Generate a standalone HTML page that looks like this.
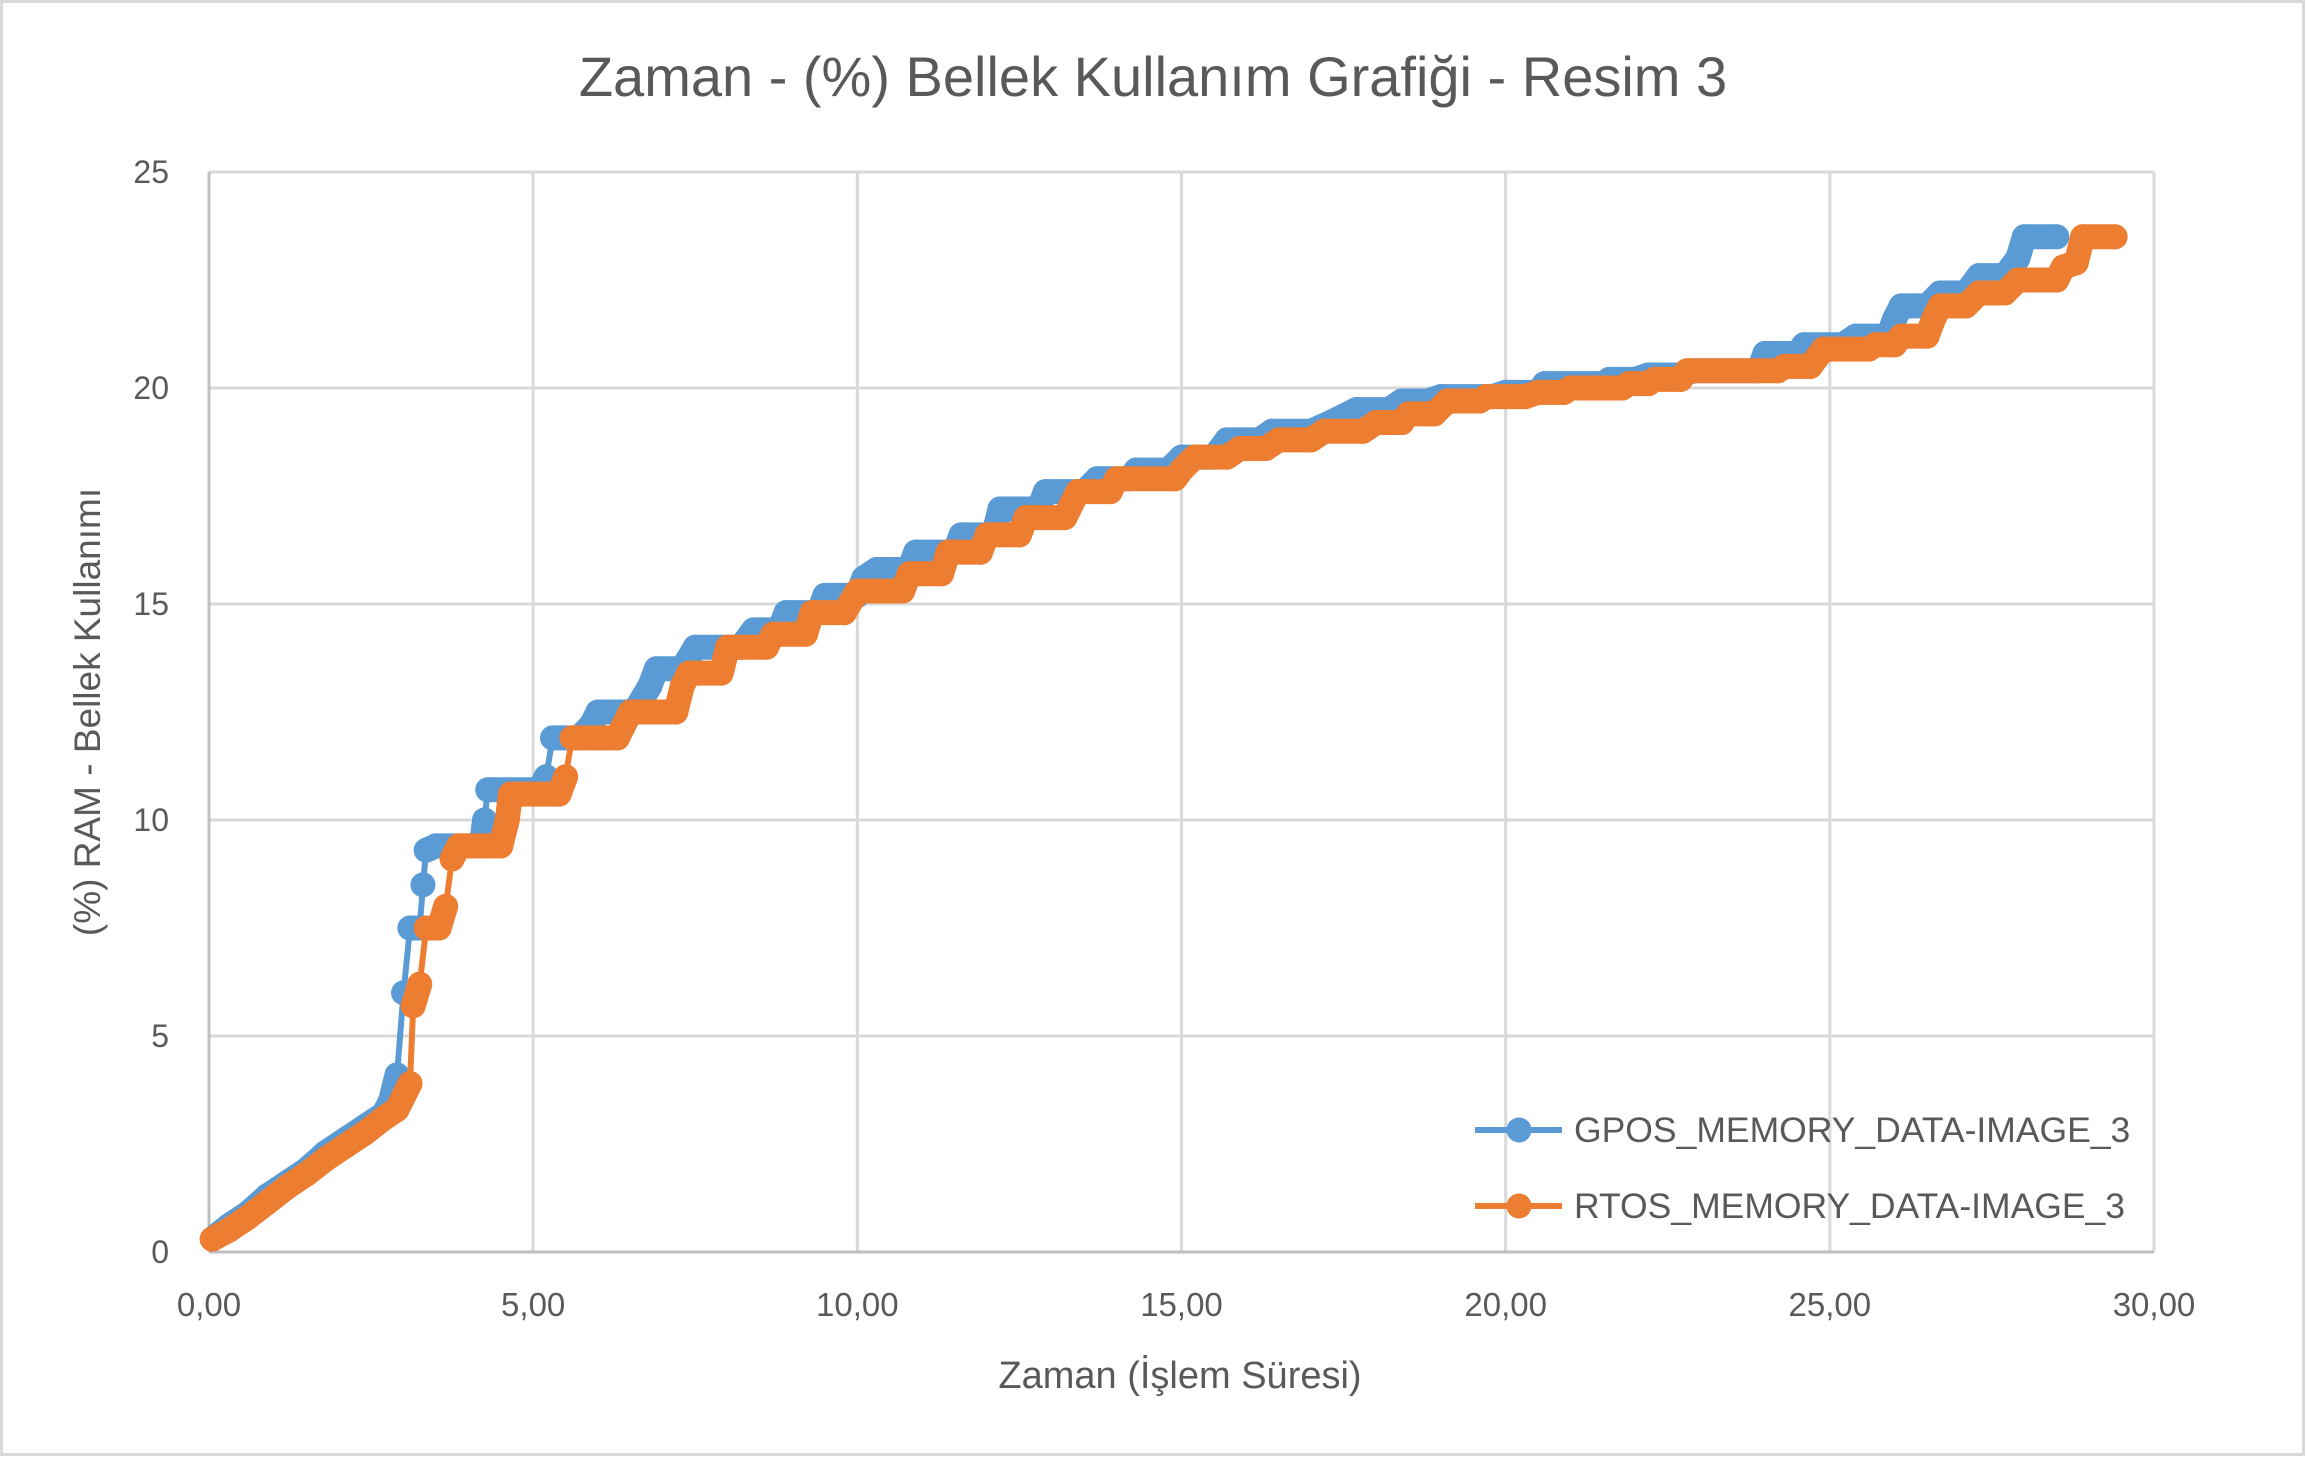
<!DOCTYPE html>
<html><head><meta charset="utf-8"><style>
html,body{margin:0;padding:0;background:#fff;}
svg{display:block;font-family:"Liberation Sans",sans-serif;}
</style></head><body>
<svg id="chart" width="2307" height="1458" viewBox="0 0 2307 1458" xmlns="http://www.w3.org/2000/svg">
<rect x="1.5" y="1.5" width="2302" height="1453" fill="#fff" stroke="#d9d9d9" stroke-width="3"/>
<text x="1153" y="96" text-anchor="middle" font-size="56" fill="#595959">Zaman - (%) Bellek Kullanım Grafiği - Resim 3</text>
<g id="grid"></g>
<g id="axes"></g>
<g id="series"></g>
<text x="1180" y="1388" text-anchor="middle" font-size="38" fill="#595959">Zaman  (İşlem Süresi)</text>
<text transform="translate(100,712) rotate(-90)" text-anchor="middle" font-size="37" fill="#595959">(%) RAM - Bellek Kullanımı</text>
<g id="legend"></g>
</svg>
<script>
const xTicks=[0,5,10,15,20,25,30];
const xTickLabels=["0,00","5,00","10,00","15,00","20,00","25,00","30,00"];
const yTicks=[0,5,10,15,20,25];
const yTickLabels=["0","5","10","15","20","25"];
const seriesNames=["GPOS_MEMORY_DATA-IMAGE_3","RTOS_MEMORY_DATA-IMAGE_3"];
const gposX=[0.05,0.3,0.6,0.9,1.2,1.5,1.8,2.1,2.4,2.7,2.8,2.9,3.0,3.1,3.25,3.3,3.35,3.5,4.2,4.25,4.3,5.1,5.2,5.3,5.7,5.9,6.0,6.5,6.6,6.8,6.9,7.3,7.5,8.2,8.4,8.8,8.9,9.4,9.5,10.0,10.1,10.3,10.8,10.9,11.5,11.6,12.1,12.2,12.8,12.9,13.5,13.7,14.2,14.3,14.8,15.0,15.5,15.7,16.2,16.4,17.0,17.3,17.7,18.2,18.4,18.8,19.0,19.8,20.0,20.5,20.6,21.5,21.6,22.0,22.2,22.7,22.9,23.9,24.0,24.5,24.6,25.2,25.4,25.9,26.0,26.1,26.5,26.7,27.1,27.3,27.7,27.8,27.9,28.0,28.5];
const gposY=[0.3,0.6,0.9,1.3,1.6,1.9,2.3,2.6,2.9,3.2,3.5,4.1,6.0,7.5,7.5,8.5,9.3,9.4,9.4,10.0,10.7,10.7,11.0,11.9,11.9,12.2,12.5,12.5,12.6,13.1,13.5,13.5,14.0,14.0,14.4,14.4,14.8,14.8,15.2,15.2,15.6,15.8,15.8,16.2,16.2,16.6,16.6,17.2,17.2,17.6,17.6,17.9,17.9,18.1,18.1,18.4,18.4,18.8,18.8,19.0,19.0,19.2,19.5,19.5,19.7,19.7,19.8,19.8,19.9,19.9,20.1,20.1,20.2,20.2,20.3,20.3,20.4,20.4,20.8,20.8,21.0,21.0,21.2,21.2,21.6,21.9,21.9,22.2,22.2,22.6,22.6,22.8,23.0,23.5,23.5];
const rtosX=[0.05,0.3,0.6,0.9,1.2,1.5,1.8,2.1,2.4,2.7,2.9,3.0,3.1,3.15,3.25,3.35,3.55,3.65,3.75,3.85,4.5,4.6,4.65,5.4,5.5,5.6,6.3,6.4,6.5,7.2,7.3,7.4,7.9,8.0,8.6,8.7,9.2,9.3,9.8,10.0,10.7,10.8,11.3,11.4,11.9,12.0,12.5,12.6,13.2,13.3,13.4,13.9,14.0,14.9,15.0,15.2,15.7,15.9,16.3,16.5,17.0,17.2,17.8,18.0,18.4,18.5,18.9,19.1,19.6,19.7,20.3,20.5,20.9,21.0,21.8,21.9,22.2,22.3,22.7,22.8,24.2,24.3,24.7,24.9,25.6,25.7,26.0,26.1,26.5,26.6,26.7,27.1,27.3,27.7,27.9,28.5,28.6,28.8,28.9,29.4];
const rtosY=[0.3,0.5,0.8,1.15,1.5,1.8,2.15,2.45,2.75,3.1,3.3,3.6,3.9,5.7,6.2,7.5,7.5,8.0,9.1,9.4,9.4,10.0,10.6,10.6,11.0,11.9,11.9,12.2,12.5,12.5,13.1,13.4,13.4,14.0,14.0,14.3,14.3,14.8,14.8,15.3,15.3,15.7,15.7,16.2,16.2,16.6,16.6,17.0,17.0,17.3,17.6,17.6,17.9,17.9,18.1,18.4,18.4,18.6,18.6,18.8,18.8,19.0,19.0,19.2,19.2,19.4,19.4,19.7,19.7,19.8,19.8,19.9,19.9,20.0,20.0,20.1,20.1,20.2,20.2,20.4,20.4,20.5,20.5,20.9,20.9,21.0,21.0,21.2,21.2,21.6,21.9,21.9,22.2,22.2,22.5,22.5,22.8,22.9,23.5,23.5];

const NS="http://www.w3.org/2000/svg";
const PL=209,PR=2154,PT=172,PB=1252,XMAX=30,YMAX=25;
function sx(v){return PL+(PR-PL)*v/XMAX;}
function sy(v){return PB-(PB-PT)*v/YMAX;}
function mk(tag,attrs,parent){const e=document.createElementNS(NS,tag);for(const k in attrs)e.setAttribute(k,attrs[k]);parent.appendChild(e);return e;}
const grid=document.getElementById('grid'),axes=document.getElementById('axes'),ser=document.getElementById('series'),leg=document.getElementById('legend');
yTicks.forEach((t,i)=>{
  if(t>0){const l=mk('line',{x1:PL,x2:PR,y1:sy(t),y2:sy(t),stroke:'#d9d9d9','stroke-width':3},grid);
  
  }
  const tx=mk('text',{x:169,y:sy(t)+11,'text-anchor':'end','font-size':32,fill:'#595959'},axes);
  tx.textContent=yTickLabels[i];
  
  
});
xTicks.forEach((t,i)=>{
  if(t>0){const l=mk('line',{x1:sx(t),x2:sx(t),y1:PT,y2:PB,stroke:'#d9d9d9','stroke-width':3},grid);
  
  }
  const tx=mk('text',{x:sx(t),y:1316,'text-anchor':'middle','font-size':33,fill:'#595959'},axes);
  tx.textContent=xTickLabels[i];
  
  
});
const ya=mk('line',{x1:PL,x2:PL,y1:PT,y2:PB,stroke:'#bfbfbf','stroke-width':3},axes);


const xa=mk('line',{x1:PL,x2:PR,y1:PB,y2:PB,stroke:'#bfbfbf','stroke-width':3},axes);



function drawSeries(xs,ys,color,name){
  const g=mk('g',{},ser);
  
  
  const pts=xs.map((x,i)=>sx(x)+','+sy(ys[i])).join(' ');
  const pl=mk('polyline',{points:pts,fill:'none',stroke:color,'stroke-width':6,'stroke-linejoin':'round'},g);
  
  
  for(let i=1;i<xs.length;i++){
    const dy=Math.abs(sy(ys[i])-sy(ys[i-1]));
    if(dy<30){
      const b=mk('line',{x1:sx(xs[i-1]),x2:sx(xs[i]),y1:sy(ys[i-1]),y2:sy(ys[i]),stroke:color,'stroke-width':25,'stroke-linecap':'round'},g);
      
      
    }
  }
  xs.forEach((x,i)=>{
    const c=mk('circle',{cx:sx(x),cy:sy(ys[i]),r:12.5,fill:color},g);
    
    
  });
}
drawSeries(gposX,gposY,'#5b9bd5','gpos-series');
drawSeries(rtosX,rtosY,'#ed7d31','rtos-series');

[[1130,'#5b9bd5'],[1206,'#ed7d31']].forEach((p,i)=>{
  const g=mk('g',{},leg);
  
  
  const l=mk('line',{x1:1475,x2:1562,y1:p[0],y2:p[0],stroke:p[1],'stroke-width':6},g);
  
  
  const c=mk('circle',{cx:1519,cy:p[0],r:12.5,fill:p[1]},g);
  
  
  const t=mk('text',{x:1574,y:p[0]+12,'font-size':35.5,fill:'#595959'},g);
  t.textContent=seriesNames[i];
  
  
});
</script>
</body></html>
